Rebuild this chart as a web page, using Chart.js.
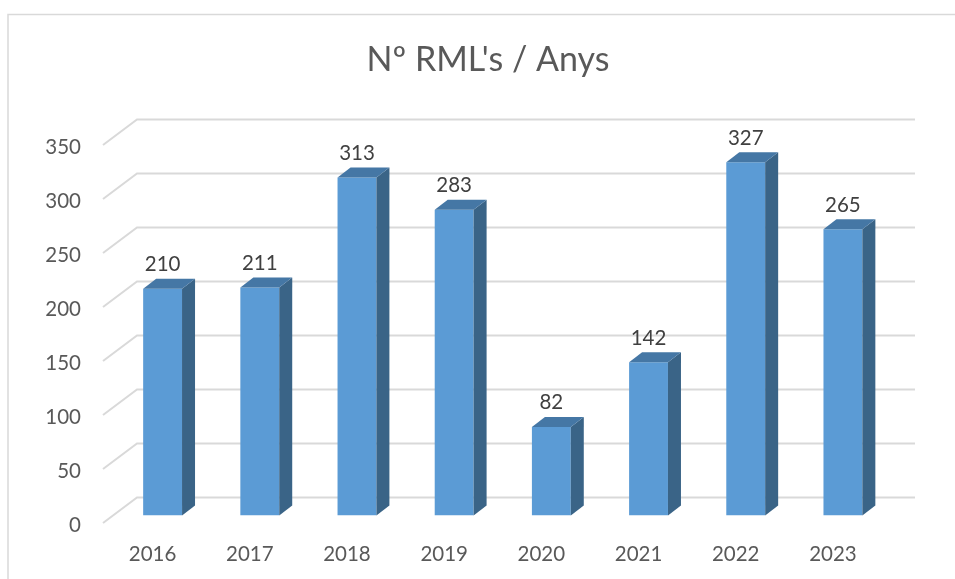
<!DOCTYPE html>
<html>
<head>
<meta charset="utf-8">
<style>
  html, body { margin: 0; padding: 0; background: #fff; overflow: hidden; }
  canvas { display: block; }
</style>
<script src="https://cdn.jsdelivr.net/npm/chart.js@4"></script>
</head>
<body>
<canvas id="chart" width="955" height="579"></canvas>
<script>
// --- Data ---
const chartTitle = "Nº RML's / Anys";
const years = ["2016", "2017", "2018", "2019", "2020", "2021", "2022", "2023"];
const rmlCounts = [210, 211, 313, 283, 82, 142, 327, 265];
const yTicks = [0, 50, 100, 150, 200, 250, 300, 350];

// --- Fake 3D look (Excel style) ---
const FONT = "Lato";
const BAR_DX = 13, BAR_DY = 10;
const WALL_LEFT = 103, WALL_DX = 34, WALL_RIGHT = 915;
const WALL_FRONT_DY = 7.5, WALL_BACK_DY = 18;

// outer frame + title (title sits off-centre, so the title plugin can't place it)
const framePlugin = {
  id: "frame",
  beforeDraw(chart) {
    const ctx = chart.ctx;
    ctx.save();
    ctx.strokeStyle = "#d9d9d9";
    ctx.lineWidth = 1.5;
    ctx.beginPath();
    ctx.moveTo(8, 579);
    ctx.lineTo(8, 14.5);
    ctx.lineTo(955, 14.5);
    ctx.stroke();

    ctx.fillStyle = "#595959";
    ctx.font = `34px ${FONT}`;
    ctx.textAlign = "center";
    ctx.textBaseline = "middle";
    ctx.fillText(chartTitle, 488, 60);
    ctx.restore();
  },
};

// back wall + floor lines, taken from the y scale ticks
const wallPlugin = {
  id: "wall",
  beforeDatasetsDraw(chart) {
    const ctx = chart.ctx;
    const y = chart.scales.y;
    ctx.save();
    ctx.strokeStyle = "#d9d9d9";
    ctx.lineWidth = 2;
    for (const t of y.ticks) {
      const py = y.getPixelForValue(t.value);
      ctx.beginPath();
      ctx.moveTo(WALL_LEFT, py + WALL_FRONT_DY);
      ctx.lineTo(WALL_LEFT + WALL_DX, py - WALL_BACK_DY);
      ctx.lineTo(WALL_RIGHT, py - WALL_BACK_DY);
      ctx.stroke();
    }
    ctx.restore();
  },
};

// side and top faces of each bar, plus the value labels
const bar3dPlugin = {
  id: "bar3d",
  afterDatasetsDraw(chart) {
    const ctx = chart.ctx;
    const bars = chart.getDatasetMeta(0).data;
    ctx.save();
    bars.forEach((bar, i) => {
      const { x, y, base, width } = bar.getProps(["x", "y", "base", "width"], true);
      const left = x - width / 2;
      const right = x + width / 2;

      ctx.fillStyle = "#3a6487";
      ctx.beginPath();
      ctx.moveTo(right, y);
      ctx.lineTo(right + BAR_DX, y - BAR_DY);
      ctx.lineTo(right + BAR_DX, base - BAR_DY);
      ctx.lineTo(right, base);
      ctx.closePath();
      ctx.fill();

      ctx.fillStyle = "#4577a5";
      ctx.beginPath();
      ctx.moveTo(left, y);
      ctx.lineTo(left + BAR_DX, y - BAR_DY);
      ctx.lineTo(right + BAR_DX, y - BAR_DY);
      ctx.lineTo(right, y);
      ctx.closePath();
      ctx.fill();

      ctx.fillStyle = "#404040";
      ctx.font = `20.5px ${FONT}`;
      ctx.textAlign = "center";
      ctx.textBaseline = "alphabetic";
      ctx.fillText(String(rmlCounts[i]), x, y - 17.5);
    });
    ctx.restore();
  },
};

new Chart(document.getElementById("chart"), {
  type: "bar",
  data: {
    labels: years,
    datasets: [
      {
        label: "Nº RML's",
        data: rmlCounts,
        backgroundColor: "#5b9bd5",
        borderWidth: 0,
        categoryPercentage: 1,
        barPercentage: 0.4,
      },
    ],
  },
  plugins: [framePlugin, wallPlugin, bar3dPlugin],
  options: {
    responsive: false,
    animation: false,
    layout: { padding: { left: 0, right: 63.5, top: 137.5, bottom: 0 } },
    plugins: {
      legend: { display: false },
      tooltip: { enabled: false },
      title: { display: false },
    },
    scales: {
      x: {
        grid: { display: false },
        border: { display: false },
        ticks: {
          color: "#595959",
          font: { family: FONT, size: 20.5 },
          padding: 19,
          labelOffset: -10,
          maxRotation: 0,
        },
        afterFit(scale) {
          scale.height = 63.5;
        },
      },
      y: {
        min: 0,
        max: 350,
        grid: { display: false },
        border: { display: false },
        afterBuildTicks(scale) {
          scale.ticks = yTicks.map((value) => ({ value }));
        },
        ticks: {
          color: "#595959",
          font: { family: FONT, size: 20.5 },
          padding: 25,
          labelOffset: 9.5,
        },
        afterFit(scale) {
          scale.width = 114;
        },
      },
    },
  },
});
</script>
</body>
</html>
